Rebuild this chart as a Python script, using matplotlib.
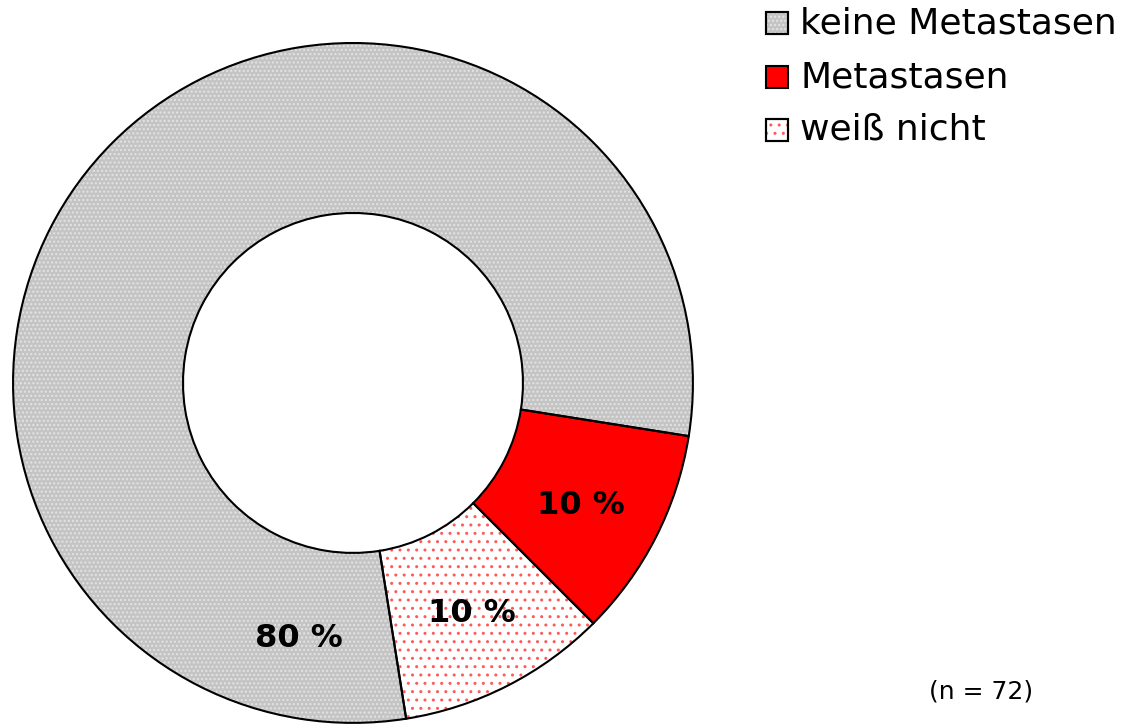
import matplotlib
matplotlib.use("Agg")
import matplotlib.pyplot as plt
from matplotlib.patches import Rectangle

# data
labels = ["keine Metastasen", "Metastasen", "weiß nicht"]
shares = [80, 10, 10]
pct_text = ["80 %", "10 %", "10 %"]
n_total = 72

face = ["#c4c4c4", "#ff0000", "white"]
dots = ["#e4e4e4", "#ff0000", "#ff5a5a"]
hatches = ["....", None, ".."]

fig = plt.figure(figsize=(11.35, 7.25), dpi=100)
ax = fig.add_axes([0.0115, 0.0028, 0.599, 0.938])

# filled layer with coloured hatch (hatch takes the edge colour)
wedges, _ = ax.pie(shares, radius=1, startangle=279, counterclock=False,
                   colors=face, wedgeprops=dict(width=0.5, linewidth=0))
for w, h, c in zip(wedges, hatches, dots):
    if h:
        w.set_hatch(h)
        w.set_edgecolor(c)
# black outlines on top
ax.pie(shares, radius=1, startangle=279, counterclock=False,
       wedgeprops=dict(width=0.5, fill=False, edgecolor="black", linewidth=1.5))

ax.set_xlim(-1, 1)
ax.set_ylim(-1, 1)
ax.set_aspect("equal")

# percentage labels
lbl_pos = [(-0.16, -0.752), (0.67, -0.36), (0.35, -0.678)]
for (x, y), t in zip(lbl_pos, pct_text):
    ax.text(x, y, t, ha="center", va="center", fontsize=23, fontweight="bold")

# legend, drawn by hand (pixel rows at 23, 77, 130)
W, H = 1135.0, 725.0
rows = [23, 77, 130]
for yy, lab, f, h, c in zip(rows, labels, face, hatches, dots):
    box = (766 / W, 1 - (yy + 11) / H)
    fig.add_artist(Rectangle(box, 22 / W, 22 / H, transform=fig.transFigure,
                             facecolor=f, edgecolor="black", linewidth=1.5))
    if h:
        fig.add_artist(Rectangle(box, 22 / W, 22 / H, transform=fig.transFigure,
                                 fill=False, hatch=h, edgecolor=c, linewidth=0))
        fig.add_artist(Rectangle(box, 22 / W, 22 / H, transform=fig.transFigure,
                                 fill=False, edgecolor="black", linewidth=1.5))
    fig.text(800 / W, 1 - yy / H, lab, fontsize=26, ha="left", va="center")

fig.text(981 / W, 1 - 692 / H, "(n = %d)" % n_total, fontsize=18,
         ha="center", va="center")

fig.savefig("out.png", dpi=100)
